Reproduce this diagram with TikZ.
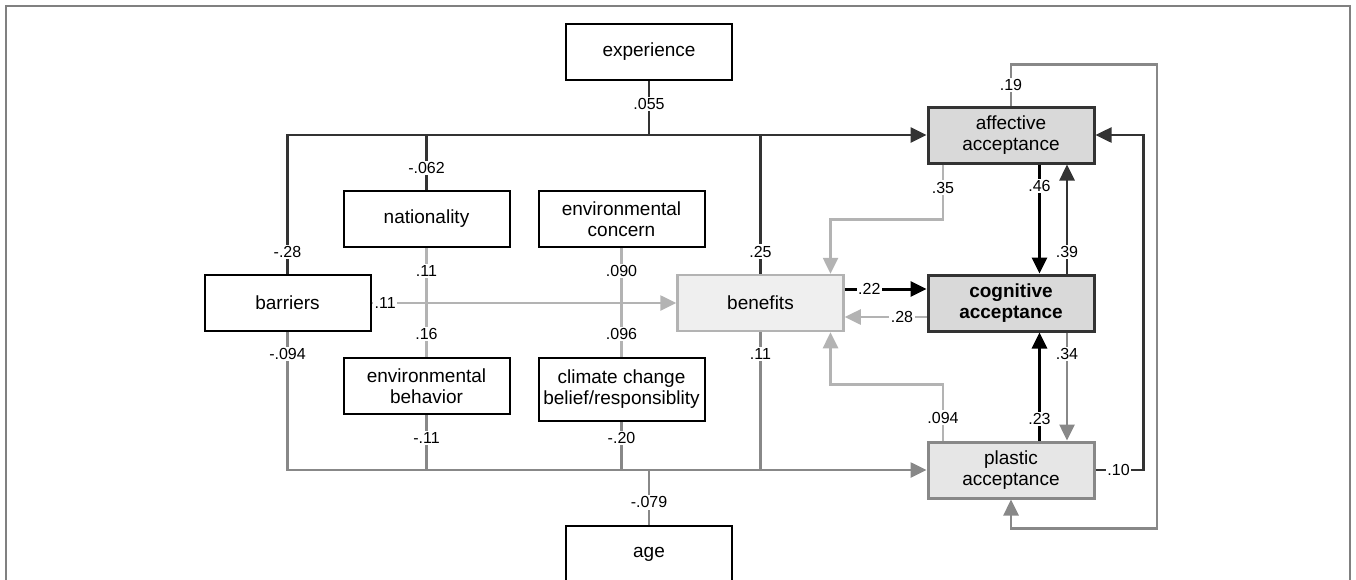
\documentclass[tikz,border=0pt]{standalone}
\usepackage{fontspec}
\setmainfont{Liberation Sans}
\usetikzlibrary{arrows.meta, calc}
\definecolor{darkln}{HTML}{333333}
\definecolor{midln}{HTML}{888888}
\definecolor{lightln}{HTML}{B3B3B3}
\definecolor{accfill}{HTML}{D9D9D9}
\definecolor{plasfill}{HTML}{E6E6E6}
\definecolor{benfill}{HTML}{EFEFEF}

\begin{document}
\begin{tikzpicture}[x=1pt, y=-1pt,
    var/.style={draw=black, line width=2pt, fill=white, minimum width=166pt,
      minimum height=56pt, inner sep=0pt, align=center,
      font=\fontsize{19}{21}\selectfont},
    lbl/.style={fill=white, inner sep=1.5pt, font=\fontsize{16}{18}\selectfont},
    tip/.style={-{Triangle[length=16pt, width=15pt]}},
    darkpath/.style={draw=darkln, line width=2.6pt},
    midpath/.style={draw=midln, line width=2.6pt},
    lightpath/.style={draw=lightln, line width=2.6pt},
    blackpath/.style={draw=black, line width=3pt}
  ]
  \useasboundingbox (0,0) rectangle (1356,579);
  \draw[gray, line width=1.5pt] (6,590) -- (6,6) -- (1350,6) -- (1350,590);

  % observed variables
  \node[var] (exper) at (649,52) {experience};
  \node[var] (nation) at (426.5,219) {nationality};
  \node[var] (envcon) at (621.5,219) {environmental\\concern};
  \node[var] (barr) at (287.5,303) {barriers};
  \node[var] (envbeh) at (426.5,386) {environmental\\behavior};
  \node[var, minimum height=63pt] (climate) at (621.5,389.5) {climate change\\belief/responsiblity};
  \node[var] (age) at (649,554) {age};
  \node[var, draw=lightln, line width=2.5pt, fill=benfill] (benef) at (760.5,303) {benefits};

  % acceptance
  \node[var, draw=darkln, line width=3pt, fill=accfill] (affacc) at (1011,135) {affective\\acceptance};
  \node[var, draw=darkln, line width=3pt, fill=accfill, font=\fontsize{19}{21}\selectfont\bfseries] (cogacc) at (1011,303) {cognitive\\acceptance};
  \node[var, draw=midln, line width=3pt, fill=plasfill] (plasacc) at (1011,470) {plastic\\acceptance};

  % experience
  \draw[darkpath, tip] (barr.north) -- node[lbl, pos=0.16] {-.28} (barr.north |- affacc.west) -- (affacc.west);
  \draw[darkpath] (exper.south) -- node[lbl, pos=0.42] {.055} (exper.south |- affacc.west);
  \draw[darkpath] (nation.north) -- node[lbl, pos=0.4] {-.062} (nation.north |- affacc.west);
  \draw[darkpath] (benef.north) -- node[lbl, pos=0.16] {.25} (benef.north |- affacc.west);

  % age
  \draw[midpath, tip] (barr.south) -- node[lbl, pos=0.16] {-.094} (barr.south |- plasacc.west) -- (plasacc.west);
  \draw[midpath] (envbeh.south) -- node[lbl, pos=0.41] {-.11} (envbeh.south |- plasacc.west);
  \draw[midpath] (climate.south) -- node[lbl, pos=0.33] {-.20} (climate.south |- plasacc.west);
  \draw[midpath] (benef.south) -- node[lbl, pos=0.16] {.11} (benef.south |- plasacc.west);
  \draw[midpath] (age.north) -- node[lbl, pos=0.41] {-.079} (age.north |- plasacc.west);

  % correlations
  \draw[lightpath] (nation.south) -- node[lbl, pos=0.21] {.11} node[lbl, pos=0.79] {.16} (envbeh.north);
  \draw[lightpath] (envcon.south) -- node[lbl, pos=0.21] {.090} node[lbl, pos=0.79] {.096} (climate.north);

  % benefits
  \draw[lightpath, tip] (barr.east) -- node[lbl, pos=0.045] {.11} (benef.west);
  \draw[lightpath, tip] ([xshift=-68pt]affacc.south) -- node[lbl, pos=0.42] {.35} ++(0,55) -| ([xshift=70pt]benef.north);
  \draw[lightpath, tip] ([xshift=-68pt]plasacc.north) -- node[lbl, pos=0.41] {.094} ++(0,-56) -| ([xshift=70pt]benef.south);
  \draw[blackpath, tip] ([yshift=14pt]benef.east) -- node[lbl, pos=0.3] {.22} ([yshift=14pt]cogacc.west);
  \draw[lightpath, tip] ([yshift=-14pt]cogacc.west) -- node[lbl, pos=0.3] {.28} ([yshift=-14pt]benef.east);

  % between acceptance
  \draw[blackpath, tip] ([xshift=28.5pt]affacc.south) -- node[lbl, pos=0.2] {.46} ([xshift=28.5pt]cogacc.north);
  \draw[darkpath, tip] ([xshift=56pt]cogacc.north) -- node[lbl, pos=0.2] {.39} ([xshift=56pt]affacc.south);
  \draw[blackpath, tip] ([xshift=28.5pt]plasacc.north) -- node[lbl, pos=0.2] {.23} ([xshift=28.5pt]cogacc.south);
  \draw[midpath, tip] ([xshift=56pt]cogacc.south) -- node[lbl, pos=0.2] {.34} ([xshift=56pt]plasacc.north);
  \draw[darkpath, tip] (plasacc.east) -- node[lbl, pos=0.48] {.10} ++(48,0) |- (affacc.east);
  \draw[midpath, tip] (affacc.north) -- node[lbl, pos=0.5] {.19} ++(0,-41) -| ($(plasacc.south)+(146,29)$) -| (plasacc.south);

\end{tikzpicture}
\end{document}
